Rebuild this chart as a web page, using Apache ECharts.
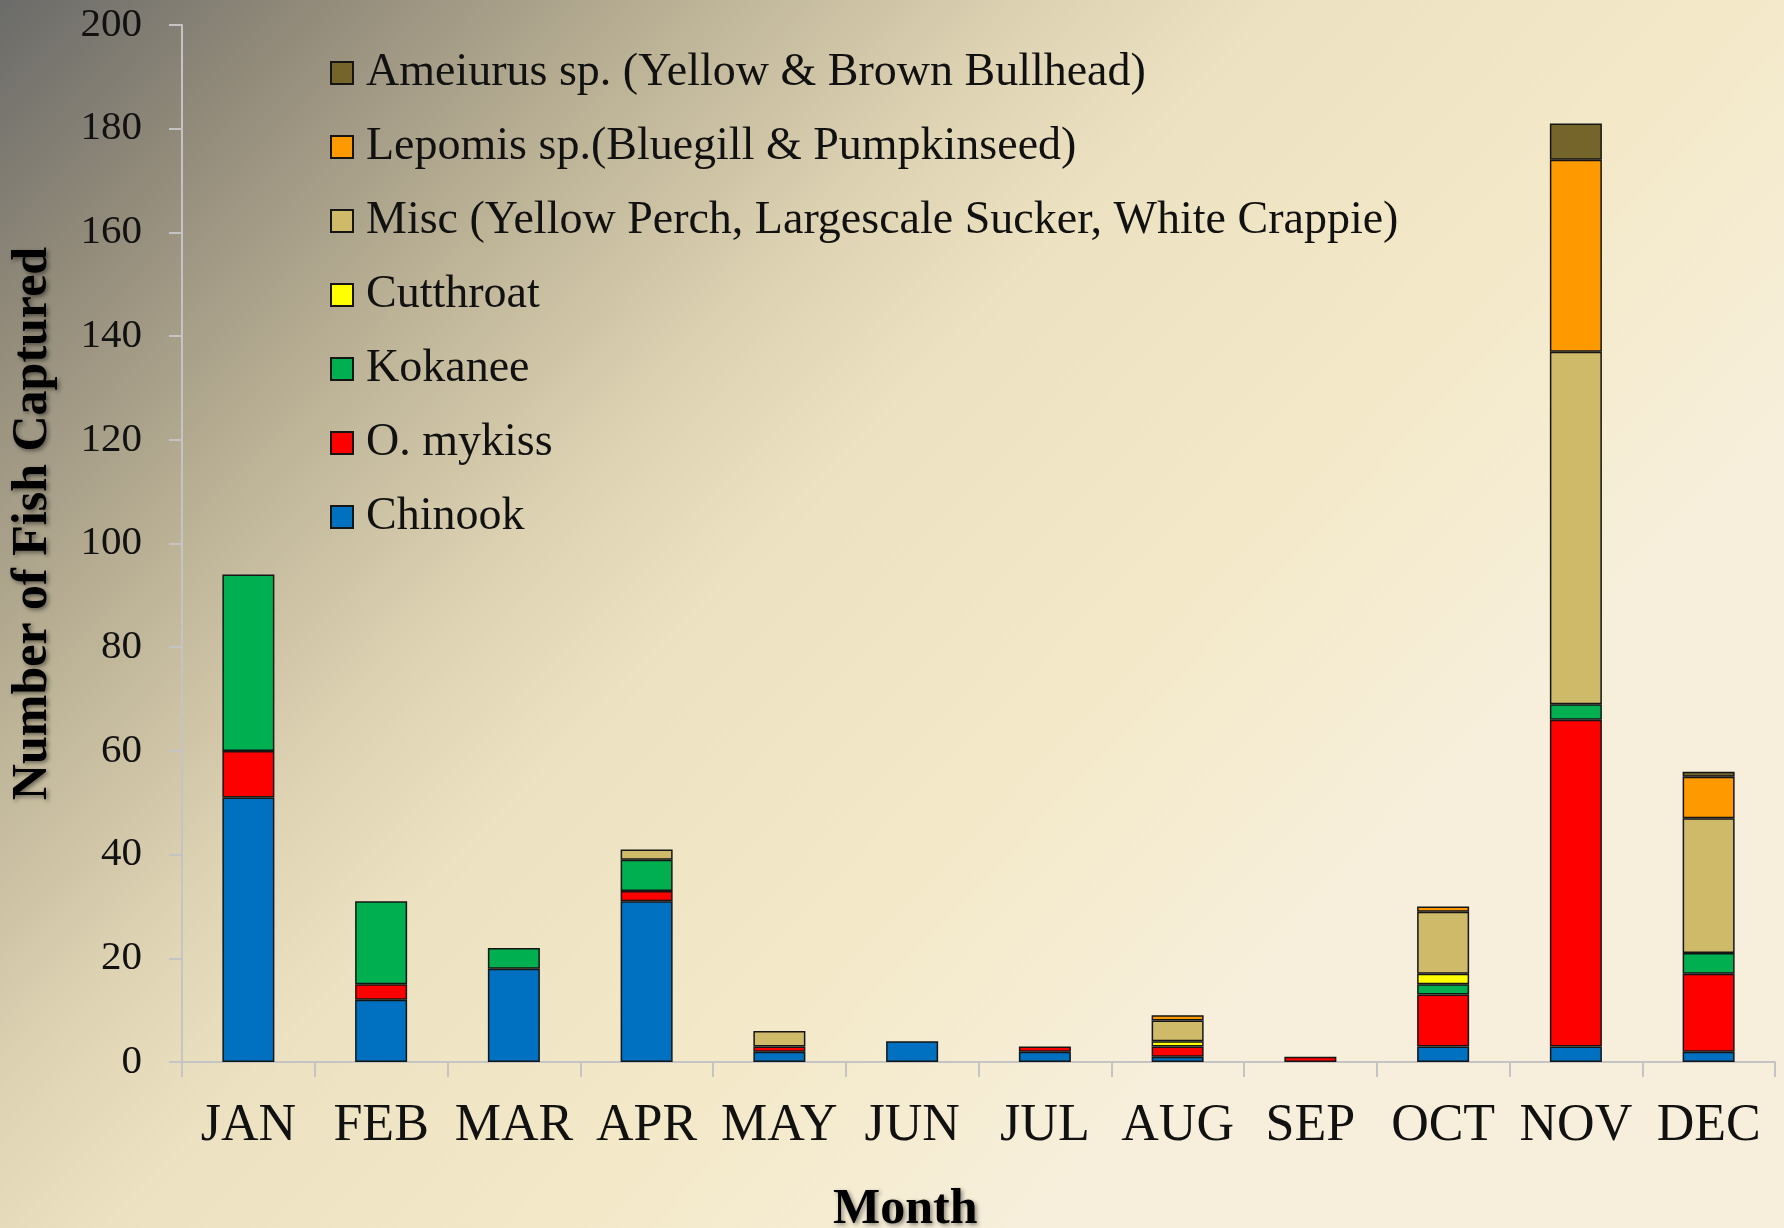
<!DOCTYPE html>
<html lang="en" style="height: 100%">
<head>
  <meta charset="UTF-8">
  <title>Number of Fish Captured by Month</title>
  <script src="https://cdn.jsdelivr.net/npm/echarts@6/dist/echarts.min.js"></script>
</head>
<body style="height: 100%; margin: 0;">
  <div id="main" style="width: 1784px; height: 1228px;"></div>

  <script>
  // month labels and catch counts per species
  const months = ['JAN', 'FEB', 'MAR', 'APR', 'MAY', 'JUN', 'JUL', 'AUG', 'SEP', 'OCT', 'NOV', 'DEC'];
  const chinook   = [51, 12, 18, 31, 2, 4, 2, 1, 0, 3, 3, 2];
  const omykiss   = [9, 3, 0, 2, 1, 0, 1, 2, 1, 10, 63, 15];
  const kokanee   = [34, 16, 4, 6, 0, 0, 0, 0, 0, 2, 3, 4];
  const cutthroat = [0, 0, 0, 0, 0, 0, 0, 1, 0, 2, 0, 0];
  const misc      = [0, 0, 0, 2, 3, 0, 0, 4, 0, 12, 68, 26];
  const lepomis   = [0, 0, 0, 0, 0, 0, 0, 1, 0, 1, 37, 8];
  const ameiurus  = [0, 0, 0, 0, 0, 0, 0, 0, 0, 0, 7, 1];
  const yTicks = [0, 20, 40, 60, 80, 100, 120, 140, 160, 180, 200];

  const names = {
    chinook: 'Chinook',
    omykiss: 'O. mykiss',
    kokanee: 'Kokanee',
    cutthroat: 'Cutthroat',
    misc: 'Misc (Yellow Perch, Largescale Sucker, White Crappie)',
    lepomis: 'Lepomis sp.(Bluegill & Pumpkinseed)',
    ameiurus: 'Ameiurus sp. (Yellow & Brown Bullhead)'
  };

  const serif = '"Liberation Serif", "DejaVu Serif", serif';
  const axisGrey = '#c4c4c4';

  function barSeries(name, values, color) {
    return {
      name: name,
      type: 'bar',
      stack: 'fish',
      barWidth: 52,
      data: values.map(v => (v === 0 ? null : v)),
      itemStyle: {
        color: color,
        borderColor: '#151515',
        borderWidth: 1.5
      }
    };
  }

  const chart = echarts.init(document.getElementById('main'));

  chart.setOption({
    animation: false,
    backgroundColor: {
      type: 'linear',
      global: true,
      x: 0, y: 0, x2: 1150, y2: 1100,
      colorStops: [
        { offset: 0, color: '#6b6b69' },
        { offset: 0.15, color: '#938c7b' },
        { offset: 0.32, color: '#bdb397' },
        { offset: 0.47, color: '#ddd2b2' },
        { offset: 0.58, color: '#ece2c2' },
        { offset: 0.78, color: '#f3e8c7' },
        { offset: 1, color: '#f7efdb' }
      ]
    },
    title: {
      text: 'Month',
      left: 833,
      top: 1185,
      padding: 0,
      textStyle: {
        fontFamily: serif,
        fontSize: 50,
        fontWeight: 'bold',
        color: '#000',
        textShadowColor: 'rgba(0,0,0,0.45)',
        textShadowBlur: 4,
        textShadowOffsetX: 2,
        textShadowOffsetY: 2
      }
    },
    legend: {
      orient: 'vertical',
      left: 325,
      top: 43,
      icon: 'rect',
      itemWidth: 22,
      itemHeight: 22,
      itemGap: 24,
      data: [names.ameiurus, names.lepomis, names.misc, names.cutthroat, names.kokanee, names.omykiss, names.chinook],
      textStyle: {
        fontFamily: serif,
        fontSize: 46,
        lineHeight: 50,
        color: '#111',
        padding: [0, 0, 0, 8]
      }
    },
    grid: {
      left: 181,
      right: 9,
      top: 25,
      bottom: 166
    },
    xAxis: {
      type: 'category',
      data: months,
      axisLine: { lineStyle: { color: axisGrey, width: 2 } },
      axisTick: { show: true, interval: 0, length: 15, lineStyle: { color: axisGrey, width: 2 } },
      axisLabel: {
        interval: 0,
        fontFamily: serif,
        fontSize: 52,
        color: '#111',
        margin: 38
      }
    },
    yAxis: {
      type: 'value',
      min: 0,
      max: 200,
      interval: 20,
      name: 'Number of Fish Captured',
      nameLocation: 'middle',
      nameRotate: 90,
      nameGap: 124,
      nameTextStyle: {
        fontFamily: serif,
        fontSize: 50,
        fontWeight: 'bold',
        color: '#000',
        padding: [0, 0, 0, 40],
        textShadowColor: 'rgba(0,0,0,0.45)',
        textShadowBlur: 4,
        textShadowOffsetX: 2,
        textShadowOffsetY: 2
      },
      axisLine: { show: true, lineStyle: { color: axisGrey, width: 2 } },
      axisTick: { show: true, length: 13, lineStyle: { color: axisGrey, width: 2 } },
      splitLine: { show: false },
      axisLabel: {
        fontFamily: serif,
        fontSize: 41,
        color: '#111',
        margin: 40,
        formatter: v => (yTicks.indexOf(v) >= 0 ? String(v) : '')
      }
    },
    series: [
      barSeries(names.chinook, chinook, '#0070c0'),
      barSeries(names.omykiss, omykiss, '#ff0000'),
      barSeries(names.kokanee, kokanee, '#00b050'),
      barSeries(names.cutthroat, cutthroat, '#ffff00'),
      barSeries(names.misc, misc, '#cfba6a'),
      barSeries(names.lepomis, lepomis, '#ff9900'),
      barSeries(names.ameiurus, ameiurus, '#75652a')
    ]
  });

  window.addEventListener('resize', function () {
    chart.resize();
  });
  </script>
</body>
</html>
